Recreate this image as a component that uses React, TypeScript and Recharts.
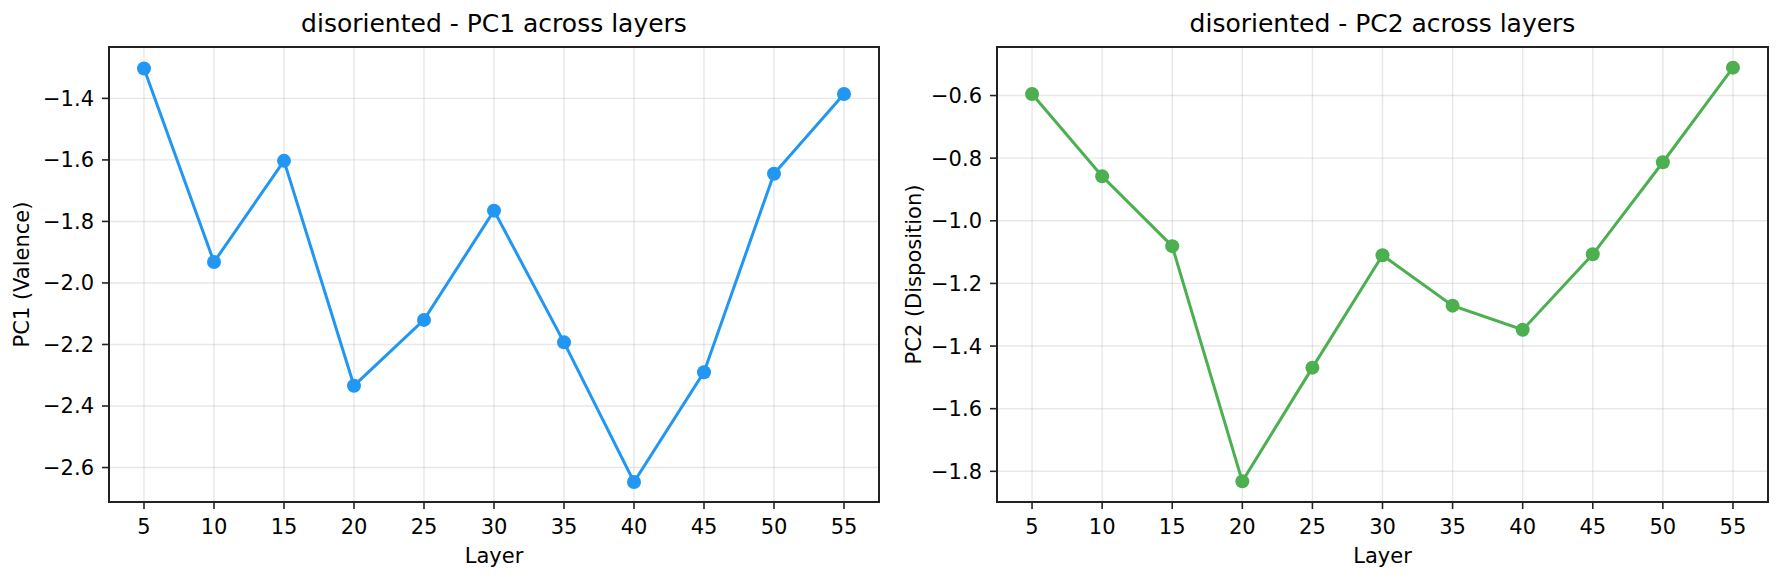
import * as React from "react"
import { LineChart, Line, XAxis, YAxis, CartesianGrid, Label, ReferenceArea } from "recharts"

const layers = [5, 10, 15, 20, 25, 30, 35, 40, 45, 50, 55]
const pc1Values = [-1.303, -1.932, -1.603, -2.334, -2.12, -1.765, -2.193, -2.647, -2.29, -1.645, -1.386]
const pc2Values = [-0.595, -0.858, -1.081, -1.832, -1.469, -1.11, -1.271, -1.348, -1.107, -0.813, -0.511]
const pc1Ticks = [-2.6, -2.4, -2.2, -2.0, -1.8, -1.6, -1.4]
const pc2Ticks = [-1.8, -1.6, -1.4, -1.2, -1.0, -0.8, -0.6]
const xDomain: [number, number] = [2.5, 57.5]

const FONT = "DejaVu Sans, sans-serif"
const INK = "#222"

const fmt = (v: number) => (v < 0 ? "\u2212" : "") + Math.abs(v).toFixed(1)

interface PanelProps {
  title: string
  yLabel: string
  values: number[]
  yTicks: number[]
  yDomain: [number, number]
  color: string
  left: number
  plotLeft: number
  plotRight: number
}

function Panel({ title, yLabel, values, yTicks, yDomain, color, left, plotLeft, plotRight }: PanelProps) {
  const width = 892
  const height = 581
  const yAxisWidth = 60
  const data = layers.map((layer, i) => ({ layer, value: values[i] }))
  return (
    <div style={{ position: "absolute", left, top: 0, width, height }}>
      <div
        style={{
          position: "absolute",
          left: plotLeft,
          width: width - plotLeft - plotRight,
          top: 9,
          textAlign: "center",
          fontFamily: FONT,
          fontSize: 25,
          lineHeight: "30px",
          color: "#000",
        }}
      >
        {title}
      </div>
      <LineChart
        width={width}
        height={height}
        data={data}
        margin={{ top: 47, right: plotRight, bottom: 2, left: plotLeft - yAxisWidth }}
        style={{ fontFamily: FONT }}
      >
        <CartesianGrid stroke="#b0b0b0" strokeOpacity={0.3} strokeWidth={1.4} />
        <XAxis
          dataKey="layer"
          type="number"
          domain={xDomain}
          ticks={layers}
          height={77}
          tickSize={7}
          tickMargin={10}
          tick={{ fill: "#000", fontSize: 21 }}
          axisLine={{ stroke: INK, strokeWidth: 2 }}
          tickLine={{ stroke: INK, strokeWidth: 1.6 }}
        >
          <Label value="Layer" position="insideBottom" offset={16} style={{ fill: "#000", fontSize: 21 }} />
        </XAxis>
        <YAxis
          type="number"
          domain={yDomain}
          ticks={yTicks}
          width={yAxisWidth}
          tickSize={7}
          tickMargin={8}
          tickFormatter={fmt}
          tick={{ fill: "#000", fontSize: 21 }}
          axisLine={{ stroke: INK, strokeWidth: 2 }}
          tickLine={{ stroke: INK, strokeWidth: 1.6 }}
          allowDataOverflow
        >
          <Label
            value={yLabel}
            angle={-90}
            position="insideLeft"
            offset={-(plotLeft - yAxisWidth) + 22}
            style={{ fill: "#000", fontSize: 21, textAnchor: "middle" }}
          />
        </YAxis>
        <ReferenceArea
          x1={xDomain[0]}
          x2={xDomain[1]}
          y1={yDomain[0]}
          y2={yDomain[1]}
          fill="none"
          stroke={INK}
          strokeWidth={2}
          ifOverflow="visible"
        />
        <Line
          type="linear"
          dataKey="value"
          stroke={color}
          strokeWidth={3}
          dot={{ r: 7, fill: color, stroke: color, strokeWidth: 0 }}
          activeDot={false}
          isAnimationActive={false}
        />
      </LineChart>
    </div>
  )
}

export default function App() {
  return (
    <div style={{ position: "absolute", left: 0, top: 0, width: 1784, height: 581, background: "#fff" }}>
      <Panel
        title="disoriented - PC1 across layers"
        yLabel="PC1 (Valence)"
        values={pc1Values}
        yTicks={pc1Ticks}
        yDomain={[-2.712, -1.233]}
        color="#2196F3"
        left={0}
        plotLeft={109}
        plotRight={13}
      />
      <Panel
        title="disoriented - PC2 across layers"
        yLabel="PC2 (Disposition)"
        values={pc2Values}
        yTicks={pc2Ticks}
        yDomain={[-1.898, -0.445]}
        color="#4CAF50"
        left={892}
        plotLeft={105}
        plotRight={16}
      />
    </div>
  )
}
